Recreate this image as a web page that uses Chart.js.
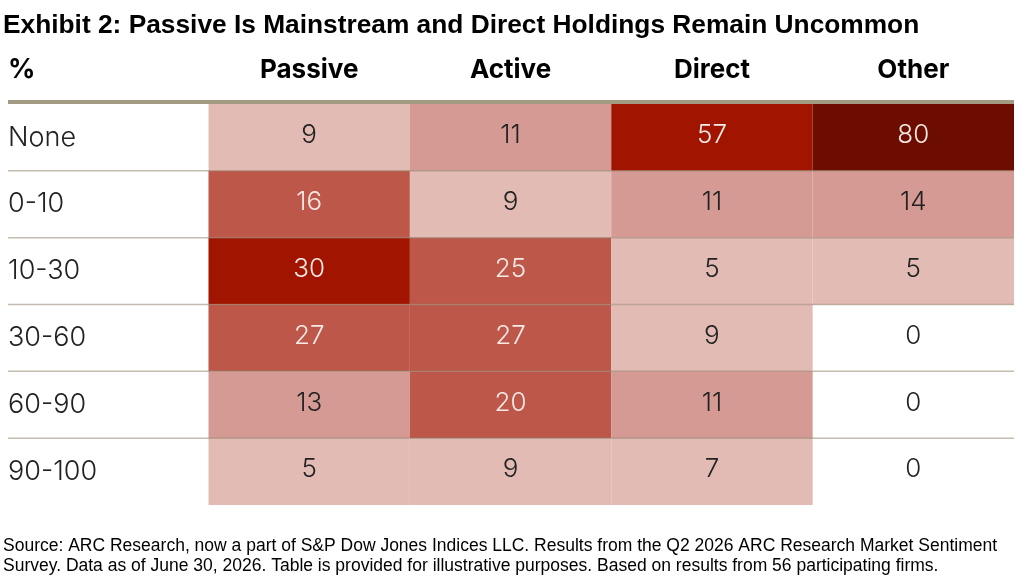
<!DOCTYPE html>
<html>
<head>
<meta charset="utf-8">
<script src="https://cdn.jsdelivr.net/npm/chart.js@4.4.1/dist/chart.umd.min.js"></script>
<style>
  html, body { margin: 0; padding: 0; background: #ffffff; }
  #wrap { width: 1021px; height: 583px; position: relative; }
</style>
</head>
<body>
<div id="wrap"><canvas id="c"></canvas></div>
<script>
// ---- data ----
const titleText = 'Exhibit 2: Passive Is Mainstream and Direct Holdings Remain Uncommon';
const cornerLabel = '%';
const rows = ['None', '0-10', '10-30', '30-60', '60-90', '90-100'];
const columns = ['Passive', 'Active', 'Direct', 'Other'];
const passive = [9, 16, 30, 27, 13, 5];
const active = [11, 9, 25, 27, 20, 9];
const direct = [57, 11, 5, 9, 11, 7];
const other = [80, 14, 5, 0, 0, 0];
const footerLines = [
  'Source: ARC Research, now a part of S&P Dow Jones Indices LLC. Results from the Q2 2026 ARC Research Market Sentiment',
  'Survey. Data as of June 30, 2026. Table is provided for illustrative purposes. Based on results from 56 participating firms.'
];
const seriesByColumn = [passive, active, direct, other];

// ---- styles ----
function cellFill(v) {
  if (v <= 0) return null;
  if (v < 10) return '#E3BBB5';
  if (v < 16) return '#D59A93';
  if (v < 30) return '#BD574A';
  if (v < 60) return '#A11500';
  return '#6C0D00';
}
function cellText(v) {
  return v >= 16 ? '#F7E9E6' : '#222222';
}
const lightFont = "'Inter', 'Roboto', 'Noto Sans', sans-serif";
const titleSize = 26.3;
const titlePadTop = 10;

const heatmapPlugin = {
  id: 'heatmap',
  afterDatasetsDraw(chart) {
    const ctx = chart.ctx;
    const xs = chart.scales.x, ys = chart.scales.y;
    const ca = chart.chartArea;
    const colW = xs.getPixelForTick(1) - xs.getPixelForTick(0);
    const rowH = ys.getPixelForTick(1) - ys.getPixelForTick(0);
    const leftEdge = ys.left;
    ctx.save();
    // cells
    seriesByColumn.forEach((vals, j) => {
      const cx = xs.getPixelForTick(j);
      vals.forEach((v, i) => {
        const cy = ys.getPixelForTick(i);
        const f = cellFill(v);
        if (f) {
          ctx.fillStyle = f;
          ctx.fillRect(cx - colW / 2, cy - rowH / 2, colW, rowH);
        }
      });
    });
    // row separators
    ctx.strokeStyle = 'rgba(150,132,110,0.55)';
    ctx.lineWidth = 1.5;
    for (let i = 1; i < rows.length; i++) {
      const y = (ys.getPixelForTick(i - 1) + ys.getPixelForTick(i)) / 2;
      ctx.beginPath();
      ctx.moveTo(leftEdge, y);
      ctx.lineTo(ca.right, y);
      ctx.stroke();
    }
    // header rule
    ctx.strokeStyle = '#A39A84';
    ctx.lineWidth = 4;
    ctx.beginPath();
    ctx.moveTo(leftEdge, ca.top - 2);
    ctx.lineTo(ca.right, ca.top - 2);
    ctx.stroke();
    // values
    ctx.font = "300 26px " + lightFont;
    ctx.textAlign = 'center';
    ctx.textBaseline = 'middle';
    seriesByColumn.forEach((vals, j) => {
      const cx = xs.getPixelForTick(j);
      vals.forEach((v, i) => {
        const cy = ys.getPixelForTick(i);
        ctx.fillStyle = cellText(v);
        ctx.fillText(String(v), cx, cy - 2);
      });
    });
    // corner label
    ctx.font = "bold 27px " + lightFont;
    ctx.fillStyle = '#000000';
    ctx.textAlign = 'left';
    ctx.fillText(cornerLabel, leftEdge, 70);
    ctx.restore();
  }
};

new Chart(document.getElementById('c'), {
  type: 'bar',
  data: { labels: columns, datasets: [] },
  options: {
    responsive: true,
    maintainAspectRatio: false,
    animation: false,
    devicePixelRatio: 1,
    layout: { padding: { left: 3, right: 7, top: 0, bottom: 0 } },
    plugins: {
      legend: { display: false },
      tooltip: { enabled: false },
      title: {
        display: true,
        text: titleText,
        align: 'start',
        color: '#000000',
        font: { family: "'Liberation Sans', Arial, sans-serif", size: titleSize, weight: 'bold', lineHeight: 1.2 },
        padding: { top: titlePadTop, bottom: 0 }
      },
      subtitle: {
        display: true,
        position: 'bottom',
        text: footerLines,
        align: 'start',
        color: '#000000',
        font: { family: "'Liberation Sans', Arial, sans-serif", size: 17.5, weight: 'normal', lineHeight: 1.114 },
        padding: { top: 31.5, bottom: 7.5 }
      }
    },
    scales: {
      x: {
        type: 'category',
        position: 'top',
        offset: true,
        grid: { display: false, drawTicks: false },
        border: { display: false },
        ticks: {
          color: '#000000',
          font: { family: lightFont, size: 26, weight: 'bold', lineHeight: 1.2 },
          padding: 18,
          maxRotation: 0
        },
        afterFit(s) { s.height = 104 - (titlePadTop + titleSize * 1.2); }
      },
      y: {
        type: 'category',
        labels: rows,
        position: 'left',
        offset: true,
        grid: { display: false, drawTicks: false },
        border: { display: false },
        ticks: {
          color: '#222222',
          crossAlign: 'far',
          font: { family: lightFont, size: 27, weight: '300' }
        },
        afterFit(s) { s.width = 200.5; }
      },
      pad: {
        type: 'linear',
        position: 'left',
        weight: 5,
        display: true,
        grid: { display: false, drawTicks: false },
        border: { display: false },
        ticks: { display: false },
        afterFit(s) { s.width = 5; }
      }
    }
  },
  plugins: [heatmapPlugin]
});
</script>
</body>
</html>
